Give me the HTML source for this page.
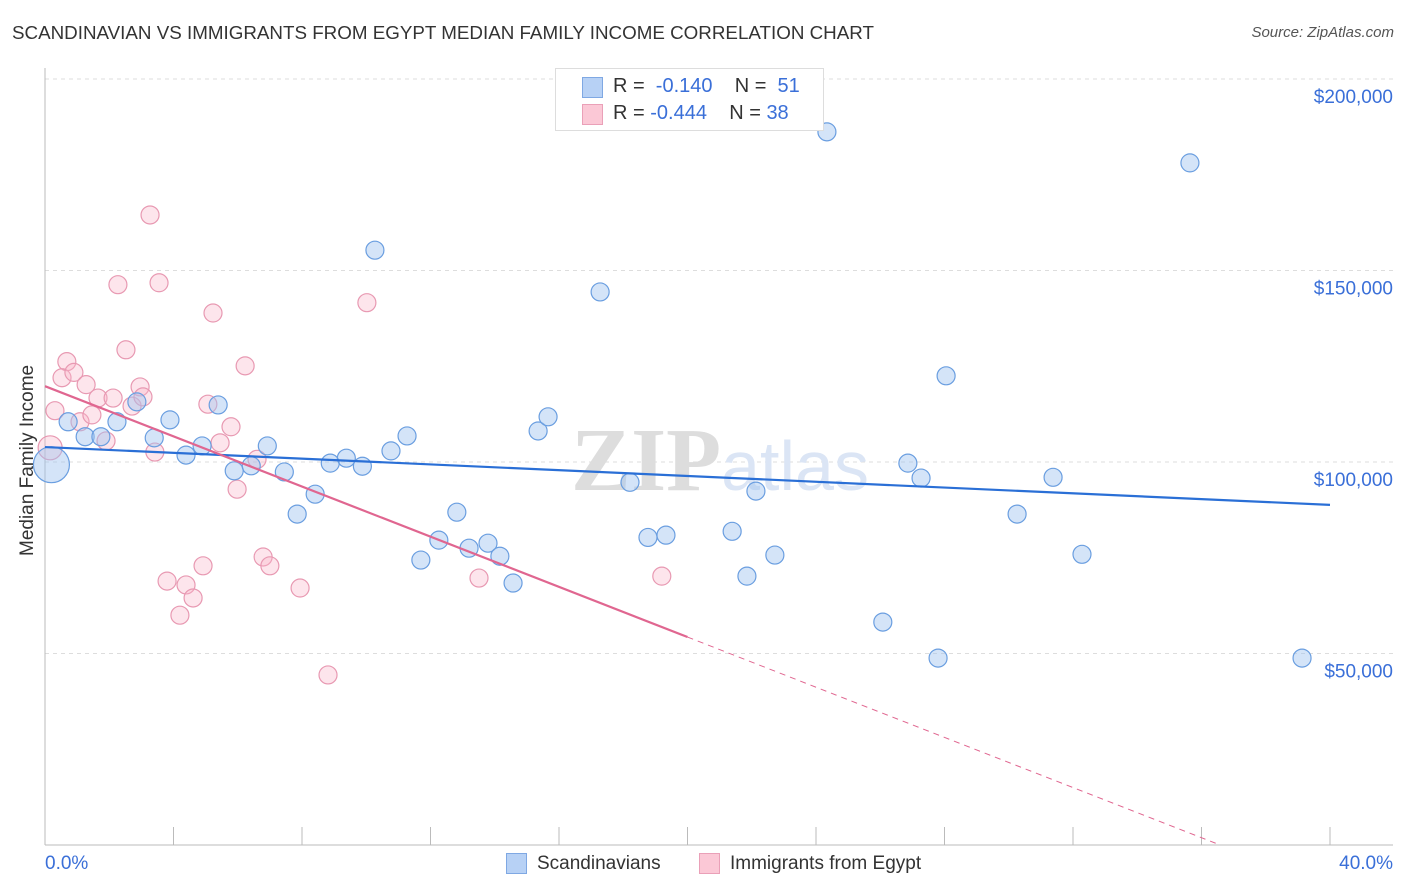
<!DOCTYPE html>
<html><head><meta charset="utf-8"><style>
body{margin:0;background:#fff;font-family:"Liberation Sans",sans-serif;}
#wrap{position:relative;width:1406px;height:892px;overflow:hidden;}
.t{position:absolute;white-space:nowrap;}
</style></head><body>
<div id="wrap">
<div class="t" style="left:12px;top:22px;font-size:18.8px;color:#333;">SCANDINAVIAN VS IMMIGRANTS FROM EGYPT MEDIAN FAMILY INCOME CORRELATION CHART</div>
<div class="t" style="right:12px;top:24px;font-size:15px;color:#555;font-style:italic;">Source: ZipAtlas.com</div>
<svg id="plot" width="1406" height="892" style="position:absolute;left:0;top:0"></svg>
</div>
<script>
const blueX=[0.2,0.72,1.25,1.74,2.24,2.86,3.4,3.89,4.39,4.89,5.39,5.89,6.42,6.92,7.45,7.85,8.41,8.88,9.38,9.88,10.27,10.77,11.27,11.7,12.26,12.82,13.2,13.79,14.16,14.57,15.35,15.66,17.28,18.21,18.77,19.33,21.39,21.85,22.13,22.72,24.34,26.08,26.86,27.27,27.8,28.05,30.26,31.38,32.28,35.64,39.13];
const blueY=[99.3,110.5,106.6,106.6,110.5,115.7,106.3,111,101.8,104.2,114.9,97.7,99,104.2,97.4,86.4,91.6,99.7,101,98.9,155.3,102.9,106.8,74.4,79.6,86.9,77.5,78.8,75.4,68.4,108.1,111.8,144.4,94.7,80.3,80.9,81.9,70.2,92.4,75.7,186.2,58.2,99.7,95.8,48.8,122.5,86.4,96,75.9,178.1,48.8];
const pinkX=[0.16,0.31,0.68,0.53,0.9,1.28,1.09,1.46,1.65,1.9,2.27,2.52,2.71,2.96,3.05,3.27,3.42,3.55,3.8,4.39,4.61,4.2,4.92,5.07,5.23,5.45,5.79,5.98,6.23,6.6,6.79,7.0,7.94,8.81,10.02,13.51,19.2,2.12];
const pinkY=[103.7,113.4,126.2,122,123.4,120.2,110.5,112.3,116.7,105.5,146.3,129.3,114.6,119.6,117,164.5,102.6,146.8,68.9,67.9,64.5,60,72.9,115.1,138.9,105,109.2,92.9,125.1,100.7,75.2,72.9,67.1,44.4,141.6,69.7,70.2,116.7];
const yTicks=[50000,100000,150000,200000];
const yTickLabels=["$50,000","$100,000","$150,000","$200,000"];
const blueLine=[103.9,88.8];
const pinkLine=[119.8,54.3];

const svg=document.getElementById('plot');const NS='http://www.w3.org/2000/svg';
const X0=45,X1=1330,YB=845;
const xs=p=>X0+(p/40)*(X1-X0);
const ys=v=>YB-v/50000*191.5;
function mk(tag,at,parent){const e=document.createElementNS(NS,tag);for(const k in at)e.setAttribute(k,at[k]);(parent||svg).appendChild(e);return e;}
yTicks.forEach((v,i)=>{
 const g=mk('line',{x1:X0,x2:1393,y1:ys(v),y2:ys(v),stroke:'#ddd','stroke-dasharray':'4,4'});
 
 
 const t=mk('text',{x:1393,y:ys(v)+24,'text-anchor':'end','font-size':19,fill:'#3a6fd8','font-family':'Liberation Sans'});
 t.textContent=yTickLabels[i];
 
 
});
const ax=mk('line',{x1:X0,x2:X0,y1:68,y2:YB,stroke:'#bbb'});


const bx=mk('line',{x1:X0,x2:1393,y1:YB,y2:YB,stroke:'#bbb'});


for(let i=1;i<=10;i++){const tk=mk('line',{x1:xs(i*4),x2:xs(i*4),y1:827,y2:YB,stroke:'#bbb'});
 
 }
const wm=mk('text',{x:720,y:490,'text-anchor':'middle','font-size':90,fill:'#e6e6e6','font-family':'Liberation Serif'});
wm.innerHTML='<tspan font-weight="bold" fill="#ddd">ZIP</tspan><tspan fill="#dbe5f5" font-family="Liberation Sans" font-size="70">atlas</tspan>';


function pts(X,Y,fill,stroke,name,bigR){X.forEach((p,i)=>{
 const c=mk('circle',{cx:xs(p),cy:ys(Y[i]*1000),r:(i===0?bigR:9),fill:fill,stroke:stroke,'stroke-width':1.2});
 
 });}
pts(pinkX,pinkY,'rgba(248,180,200,0.35)','#e899b2','egypt-point',12);
pts(blueX,blueY,'rgba(160,196,240,0.45)','#6a9ee0','scandinavian-point',18);
const bl=mk('line',{x1:xs(0),y1:ys(blueLine[0]*1000),x2:xs(40),y2:ys(blueLine[1]*1000),stroke:'#2a6fd6','stroke-width':2.2});


const slope=(pinkLine[1]-pinkLine[0])/20;const xz=-pinkLine[0]/slope;
const pl=mk('line',{x1:xs(0),y1:ys(pinkLine[0]*1000),x2:xs(20),y2:ys(pinkLine[1]*1000),stroke:'#e06690','stroke-width':2.2});


const pd=mk('line',{x1:xs(20),y1:ys(pinkLine[1]*1000),x2:xs(xz),y2:ys(0),stroke:'#e06690','stroke-width':1,'stroke-dasharray':'6,5'});


</script>
<div class="t" style="left:17px;top:556px;transform:rotate(-90deg);transform-origin:0 0;font-size:19px;color:#333;">Median Family Income</div>
<div class="t" style="left:45px;top:853px;font-size:19px;color:#3a6fd8;">0.0%</div>
<div class="t" style="right:13px;top:853px;font-size:19px;color:#3a6fd8;">40.0%</div>
<div class="t" style="left:555px;top:68px;width:267px;height:61px;border:1px solid #ddd;background:#fff;">
 <div class="t" style="left:26px;top:8px;width:19px;height:19px;background:#b7d1f5;border:1px solid #7fa8e3;"></div>
 <div class="t" style="left:57px;top:6px;font-size:20px;color:#333;">R = &nbsp;<span style="color:#3a6fd8">-0.140</span>&nbsp;&nbsp;&nbsp; N = &nbsp;<span style="color:#3a6fd8">51</span></div>
 <div class="t" style="left:26px;top:35px;width:19px;height:19px;background:#fbc8d6;border:1px solid #eaa0b8;"></div>
 <div class="t" style="left:57px;top:33px;font-size:20px;color:#333;">R = <span style="color:#3a6fd8">-0.444</span>&nbsp;&nbsp;&nbsp; N = <span style="color:#3a6fd8">38</span></div>
</div>
<div class="t" style="left:506px;top:853px;width:19px;height:19px;background:#b7d1f5;border:1px solid #7fa8e3;"></div>
<div class="t" style="left:537px;top:853px;font-size:19px;color:#333;">Scandinavians</div>
<div class="t" style="left:699px;top:853px;width:19px;height:19px;background:#fbc8d6;border:1px solid #eaa0b8;"></div>
<div class="t" style="left:730px;top:853px;font-size:19px;color:#333;">Immigrants from Egypt</div>
</body></html>
